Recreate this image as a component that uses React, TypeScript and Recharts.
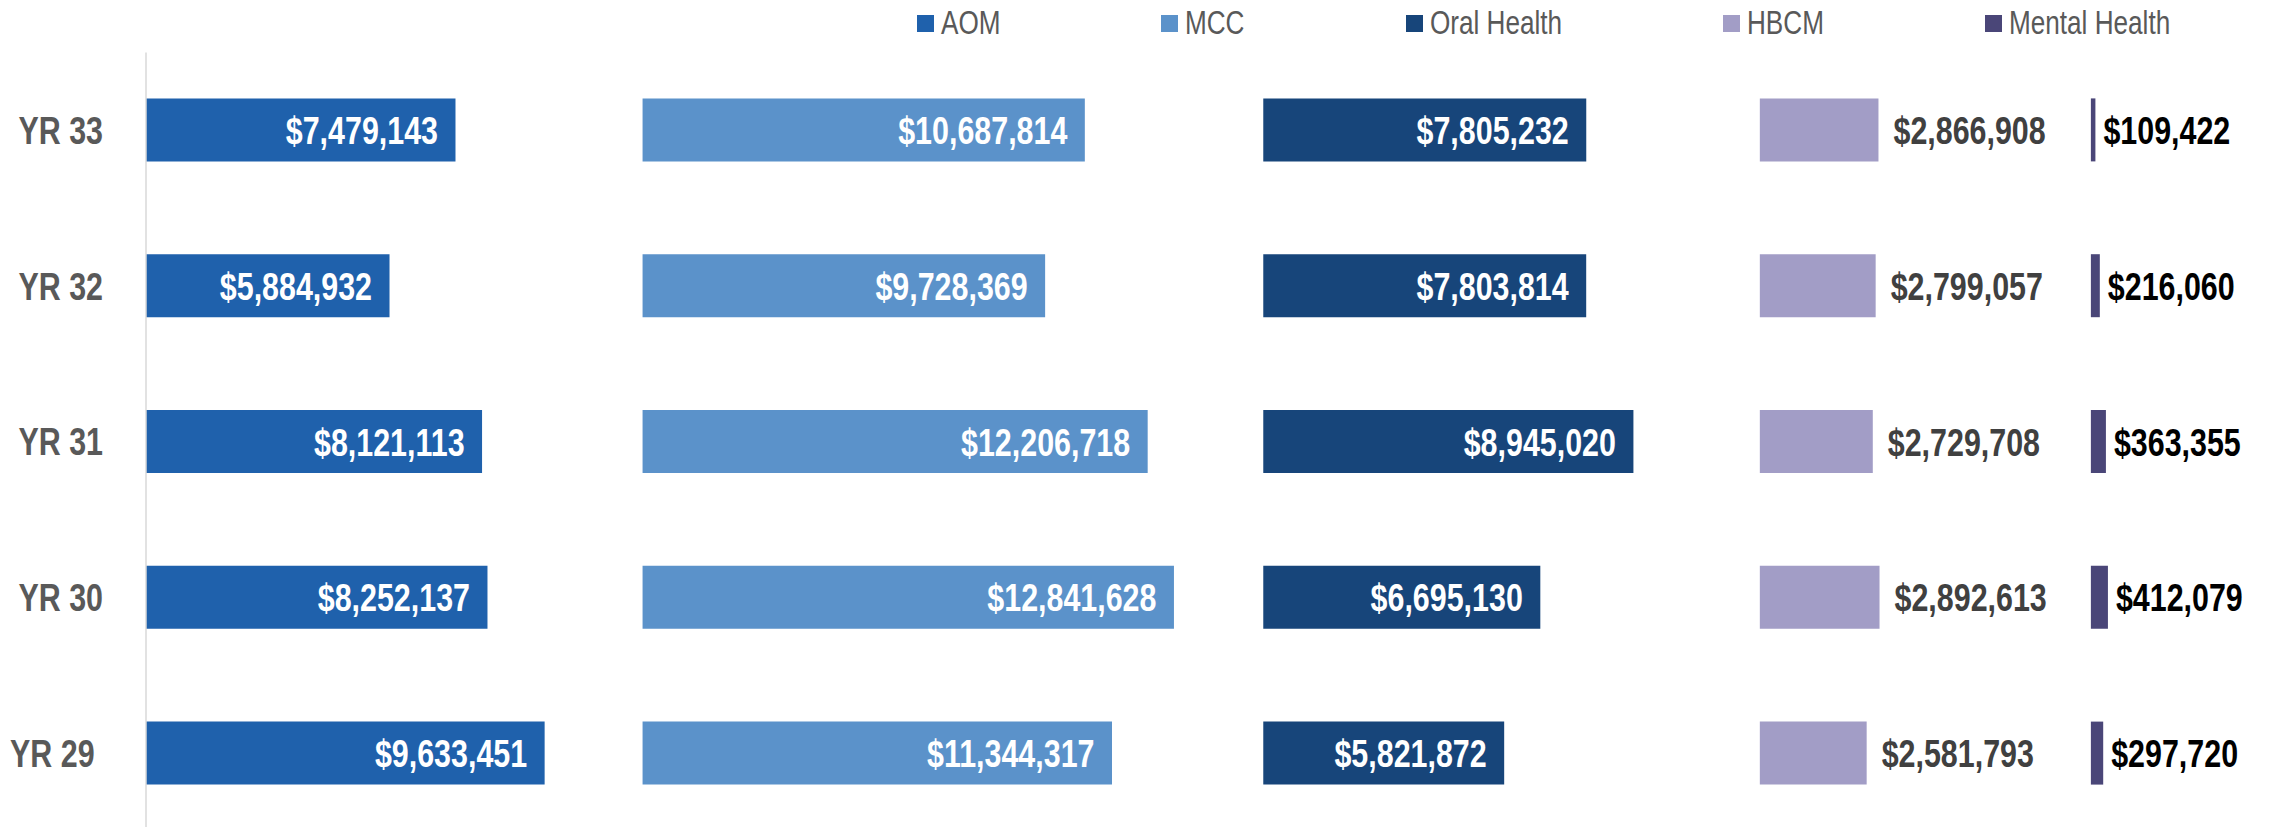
import * as React from "react";
import { BarChart, Bar, XAxis, YAxis, LabelList } from "recharts";

// ---------------------------------------------------------------------------
// Data
// ---------------------------------------------------------------------------
// "YR 29 " carries a trailing space in the source sheet (its label sits further left)
const years = ["YR 33", "YR 32", "YR 31", "YR 30", "YR 29 "];
const aom = [7479143, 5884932, 8121113, 8252137, 9633451];
const mcc = [10687814, 9728369, 12206718, 12841628, 11344317];
const oralHealth = [7805232, 7803814, 8945020, 6695130, 5821872];
const hbcm = [2866908, 2799057, 2729708, 2892613, 2581793];
const mentalHealth = [109422, 216060, 363355, 412079, 297720];

// where each program's column begins on the shared dollar axis
const columnStarts = [0, 12000000, 27000000, 39000000, 47000000];
const axisMax = 51000000;

const series = [
  { key: "aom", name: "AOM", color: "#1F61AC" },
  { key: "mcc", name: "MCC", color: "#5B92CA" },
  { key: "oral", name: "Oral Health", color: "#17457A" },
  { key: "hbcm", name: "HBCM", color: "#A29DC6" },
  { key: "mental", name: "Mental Health", color: "#4A4678" },
];

// stacked rows: each program followed by an invisible spacer up to the next column
const rows = years.map((year, i) => ({
  year,
  aom: aom[i],
  gap1: columnStarts[1] - columnStarts[0] - aom[i],
  mcc: mcc[i],
  gap2: columnStarts[2] - columnStarts[1] - mcc[i],
  oral: oralHealth[i],
  gap3: columnStarts[3] - columnStarts[2] - oralHealth[i],
  hbcm: hbcm[i],
  gap4: columnStarts[4] - columnStarts[3] - hbcm[i],
  mental: mentalHealth[i],
}));

// ---------------------------------------------------------------------------
// Styling helpers
// ---------------------------------------------------------------------------
const FONT = "'Liberation Sans', Arial, sans-serif";
const NARROW = 0.78; // squeeze Liberation Sans to Arial Narrow proportions
const LABEL_SIZE = 39;
const legendX = [917, 1161, 1406, 1723, 1985];

const money = (v: number) => "$" + Number(v).toLocaleString("en-US");

function insideEndLabel(props: any) {
  const { x, y, width, height, value } = props;
  const tx = Number(x) + Number(width) - 17.5;
  const ty = Number(y) + Number(height) / 2 + 14;
  return (
    <text
      transform={`translate(${tx},${ty}) scale(${NARROW},1)`}
      textAnchor="end"
      fill="#FFFFFF"
      fontFamily={FONT}
      fontWeight="bold"
      fontSize={LABEL_SIZE}
    >
      {money(value)}
    </text>
  );
}

const outsideLabel = (color: string, gap: number) => (props: any) => {
  const { x, y, width, height, value } = props;
  const tx = Number(x) + Number(width) + gap;
  const ty = Number(y) + Number(height) / 2 + 14;
  return (
    <text
      transform={`translate(${tx},${ty}) scale(${NARROW},1)`}
      textAnchor="start"
      fill={color}
      fontFamily={FONT}
      fontWeight="bold"
      fontSize={LABEL_SIZE}
    >
      {money(value)}
    </text>
  );
};

function YearTick({ y, payload }: any) {
  return (
    <text
      transform={`translate(103,${Number(y) + 13.5}) scale(${NARROW},1)`}
      textAnchor="end"
      fill="#595959"
      fontFamily={FONT}
      fontWeight="bold"
      fontSize={LABEL_SIZE}
      xmlSpace="preserve"
      style={{ whiteSpace: "pre" }}
    >
      {payload.value}
    </text>
  );
}

function LegendRow() {
  return (
    <svg width={2269} height={50} style={{ position: "absolute", left: 0, top: 0, pointerEvents: "none" }}>
      {series.map((s, i) => (
        <g key={s.key}>
          <rect x={legendX[i]} y={15} width={17} height={17} fill={s.color} />
          <text
            transform={`translate(${legendX[i] + 24},34.3) scale(${NARROW},1)`}
            fill="#595959"
            fontFamily={FONT}
            fontSize={33.5}
          >
            {s.name}
          </text>
        </g>
      ))}
    </svg>
  );
}

// ---------------------------------------------------------------------------
// Main component
// ---------------------------------------------------------------------------
export default function App() {
  return (
    <div
      style={{
        position: "absolute",
        left: 0,
        top: 0,
        width: 2269,
        height: 827,
        overflow: "hidden",
        background: "#FFFFFF",
      }}
    >
      <BarChart
        width={2269}
        height={832}
        data={rows}
        layout="vertical"
        barSize={63}
        margin={{ top: 52.4, right: 12.6, bottom: 0.6, left: 0 }}
      >
        <XAxis type="number" domain={[0, axisMax]} hide />
        <YAxis
          type="category"
          dataKey="year"
          width={146}
          axisLine={{ stroke: "#D9D9D9", strokeWidth: 1.5 }}
          tickLine={false}
          tick={<YearTick />}
        />
        <Bar dataKey="aom" stackId="s" fill="#1F61AC" isAnimationActive={false}>
          <LabelList dataKey="aom" content={insideEndLabel} />
        </Bar>
        <Bar dataKey="gap1" stackId="s" fill="transparent" isAnimationActive={false} />
        <Bar dataKey="mcc" stackId="s" fill="#5B92CA" isAnimationActive={false}>
          <LabelList dataKey="mcc" content={insideEndLabel} />
        </Bar>
        <Bar dataKey="gap2" stackId="s" fill="transparent" isAnimationActive={false} />
        <Bar dataKey="oral" stackId="s" fill="#17457A" isAnimationActive={false}>
          <LabelList dataKey="oral" content={insideEndLabel} />
        </Bar>
        <Bar dataKey="gap3" stackId="s" fill="transparent" isAnimationActive={false} />
        <Bar dataKey="hbcm" stackId="s" fill="#A29DC6" isAnimationActive={false}>
          <LabelList dataKey="hbcm" content={outsideLabel("#404040", 15)} />
        </Bar>
        <Bar dataKey="gap4" stackId="s" fill="transparent" isAnimationActive={false} />
        <Bar dataKey="mental" stackId="s" fill="#4A4678" isAnimationActive={false}>
          <LabelList dataKey="mental" content={outsideLabel("#000000", 8)} />
        </Bar>
      </BarChart>
      <LegendRow />
    </div>
  );
}
